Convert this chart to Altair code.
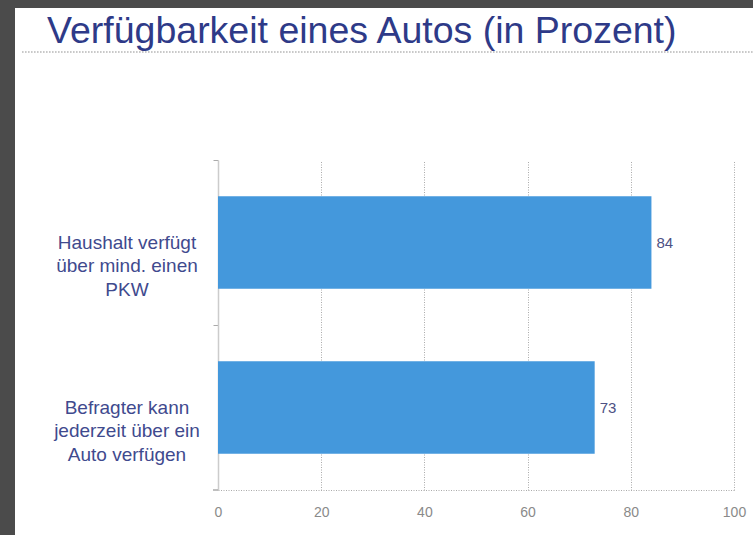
import altair as alt
import pandas as pd

categories = [
    "Haushalt verfügt\nüber mind. einen\nPKW",
    "Befragter kann\njederzeit über ein\nAuto verfügen",
]
values = [84, 73]
x_ticks = [0, 20, 40, 60, 80, 100]
title_text = "Verfügbarkeit eines Autos (in Prozent)"

df = pd.DataFrame({"cat": categories, "val": values})
title_df = pd.DataFrame({"t": [title_text]})

W, H = 516, 330
PL, PT = 218, 160
DARK = "#4b4b4b"

ysc = alt.Scale(domain=categories, paddingInner=0.44, paddingOuter=0.22)
xsc = alt.Scale(domain=[0, 100], nice=False)

base = alt.Chart(df)

left_strip = base.mark_rect(color=DARK).encode(
    x=alt.value(-PL), x2=alt.value(15 - PL),
    y=alt.value(-PT), y2=alt.value(535 - PT),
)
top_strip = base.mark_rect(color=DARK).encode(
    x=alt.value(-PL), x2=alt.value(753 - PL),
    y=alt.value(-PT), y2=alt.value(8 - PT),
)

title_rule = base.mark_rule(color="#b8b8b8", strokeDash=[1.5, 1.5], strokeWidth=1.2).encode(
    x=alt.value(22 - PL), x2=alt.value(753 - PL), y=alt.value(52 - PT)
)

title_mark = alt.Chart(title_df).mark_text(
    align="left", baseline="alphabetic", fontSize=37.5, font="Liberation Sans",
    color="#2e3a88"
).encode(x=alt.value(47 - PL), y=alt.value(43 - PT), text="t:N")

bars = base.mark_bar(color="#4498dc").encode(
    x=alt.X("val:Q", scale=xsc, title=None,
            axis=alt.Axis(values=x_ticks, grid=True, gridDash=[1, 1.5], gridColor="#aaaaaa",
                          domainDash=[1, 1.5], domainColor="#aaaaaa", ticks=False,
                          labelColor="#8a8a8a", labelFontSize=14, labelPadding=15,
                          labelFlush=False, labelFont="Liberation Sans")),
    y=alt.Y("cat:N", scale=ysc, sort=categories, title=None,
            axis=alt.Axis(labels=False, domainColor="#cccccc", domainWidth=1.5,
                          tickOffset=-H / 4, tickColor="#aaaaaa", tickSize=5, grid=False)),
)

bottom_tick = base.mark_rule(color="#aaaaaa").encode(
    x=alt.value(-5), x2=alt.value(0), y=alt.value(H)
)

val_labels = base.mark_text(align="left", baseline="middle", dx=5, fontSize=15,
                            color="#4d5184", font="Liberation Sans").encode(
    x=alt.X("val:Q", scale=xsc),
    y=alt.Y("cat:N", scale=ysc, sort=categories),
    text="val:Q",
)

cat_labels = base.mark_text(align="center", baseline="middle", lineBreak="\n", lineHeight=23.5,
                            fontSize=19, color="#3f4a8e", font="Liberation Sans").encode(
    x=alt.value(127 - PL),
    y=alt.Y("cat:N", scale=ysc, sort=categories),
    text="cat:N",
)

chart = alt.layer(left_strip, top_strip, title_rule, title_mark, bars, bottom_tick,
                  val_labels, cat_labels).properties(
    width=W, height=H,
    autosize=alt.AutoSizeParams(type="none"),
    padding={"left": PL, "top": PT, "right": 753 - PL - W, "bottom": 535 - PT - H},
    background="white",
).configure_view(stroke=None)

chart.save("out.html", embed_options={"renderer": "svg", "actions": False})
